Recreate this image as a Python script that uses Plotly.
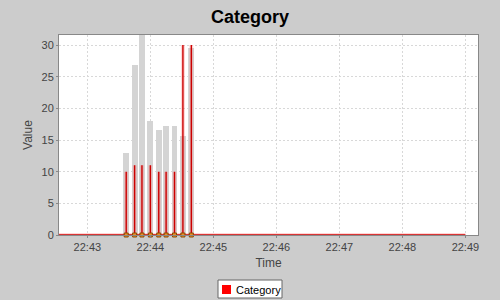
import plotly.graph_objects as go

day = "2024-01-01 "
times = ["22:43:37", "22:43:45", "22:43:52", "22:44:00", "22:44:08",
         "22:44:15", "22:44:23", "22:44:31", "22:44:39"]
bar_values = [12.9, 26.9, 35.0, 18.0, 16.6, 17.2, 17.2, 15.6, 29.5]
line_values = [10, 11, 11, 11, 10, 10, 10, 30, 30]
series_start = "22:42:33"
series_end = "22:49:00"
x_range = ["22:42:33", "22:49:12"]
y_ticks = [0, 5, 10, 15, 20, 25, 30]
legend_label = "Category"

ts = [day + t for t in times]

# stem-style red series: zero baseline with spikes at each sample time
lx = [day + series_start]
ly = [0]
for t, v in zip(ts, line_values):
    lx += [t, t, t]
    ly += [0, v, 0]
lx.append(day + series_end)
ly.append(0)

fig = go.Figure()
fig.add_trace(go.Bar(x=ts, y=bar_values, width=5600, marker_color="#d4d4d4",
                     marker_line_width=0, showlegend=False, hoverinfo="skip"))
fig.add_trace(go.Scatter(x=lx, y=ly, mode="lines",
                         line=dict(color="rgba(255,120,120,0.3)", width=4),
                         showlegend=False, hoverinfo="skip"))
fig.add_trace(go.Scatter(x=lx, y=ly, mode="lines",
                         line=dict(color="#cc0000", width=1.4),
                         showlegend=False))
fig.add_trace(go.Scatter(x=ts, y=[0] * len(ts), mode="markers",
                         marker=dict(symbol="square", size=4, color="#e8902a",
                                     line=dict(color="#8a4a00", width=1)),
                         showlegend=False, cliponaxis=False))

font = "Liberation Sans, Arial, sans-serif"

# manual legend box (pixel positions converted to paper coords)
def px_x(p):
    return (p - 59) / 419.0

def px_y(p):
    return (235 - p) / 200.0

shapes = [
    dict(type="rect", xref="paper", yref="paper", x0=px_x(218), x1=px_x(282),
         y0=px_y(298), y1=px_y(280), fillcolor="#ffffff",
         line=dict(color="#666666", width=1)),
    dict(type="rect", xref="paper", yref="paper", x0=px_x(222), x1=px_x(231),
         y0=px_y(294), y1=px_y(285), fillcolor="#ff0000",
         line=dict(width=0)),
]
annotations = [
    dict(text=legend_label, xref="paper", yref="paper", x=px_x(234),
         y=px_y(289.5), xanchor="left", yanchor="middle", showarrow=False,
         font=dict(family=font, size=11, color="#000"))
]

fig.update_layout(
    width=500, height=300,
    margin=dict(l=59, r=22, t=35, b=65, autoexpand=False),
    paper_bgcolor="#cccccc", plot_bgcolor="#ffffff",
    title=dict(text="<b>Category</b>", x=0.5, xanchor="center", y=0.943,
               yanchor="middle", font=dict(family=font, size=18, color="#000")),
    font=dict(family=font, size=11, color="#444"),
    bargap=0,
    showlegend=False,
    shapes=shapes,
    annotations=annotations,
)
fig.update_xaxes(type="date", range=[day + x_range[0], day + x_range[1]],
                 dtick=60000, tickformat="%H:%M", showgrid=True,
                 gridcolor="#d8d8d8", griddash="2px,2px", gridwidth=1,
                 showline=True, linecolor="#888", mirror=True,
                 ticks="outside", ticklen=2, tickcolor="#888",
                 automargin=False,
                 title=dict(text="Time", font=dict(size=12, color="#444"),
                            standoff=6), zeroline=False)
fig.update_yaxes(range=[0, 31.58], tickvals=y_ticks, showgrid=True,
                 gridcolor="#d8d8d8", griddash="2px,2px", gridwidth=1,
                 showline=True, linecolor="#888", mirror=True,
                 ticks="outside", ticklen=2, tickcolor="#888",
                 automargin=False,
                 title=dict(text="Value", font=dict(size=12, color="#444"),
                            standoff=6), zeroline=False)

fig.write_html("out.html")
